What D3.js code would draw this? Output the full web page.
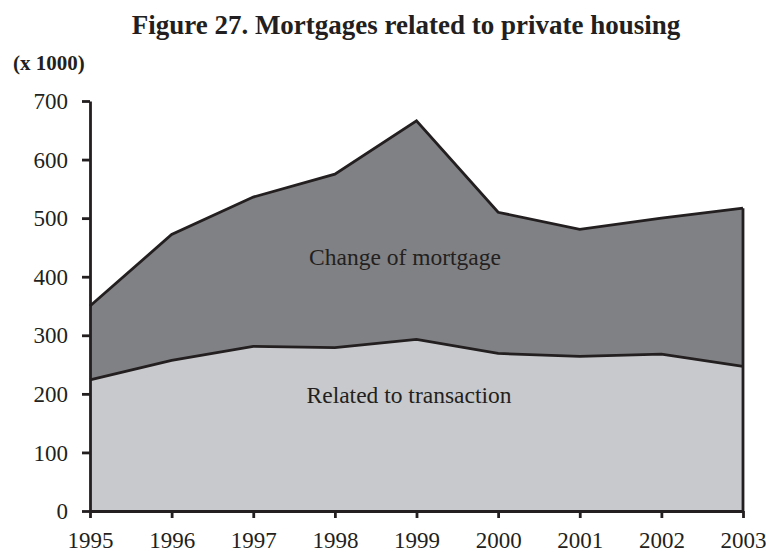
<!DOCTYPE html>
<html>
<head>
<meta charset="utf-8">
<script src="https://cdn.jsdelivr.net/npm/d3@7"></script>
<style>
  body { margin: 0; background: #fff; }
  text { font-family: "Liberation Serif", "Times New Roman", serif; fill: #231f20; }
</style>
</head>
<body>
<div id="chart"></div>
<script>
// data (x 1000)
const years = [1995, 1996, 1997, 1998, 1999, 2000, 2001, 2002, 2003];
const transaction = [224, 257, 281, 279, 293, 269, 264, 268, 247];
const change = [126, 215, 255, 296, 373, 241, 217, 232, 270];
const yTicks = [0, 100, 200, 300, 400, 500, 600, 700];

const width = 766, height = 554;
const margin = { top: 101, right: 23, bottom: 43, left: 90 };

const svg = d3.select('#chart').append('svg')
  .attr('width', width)
  .attr('height', height);

const x = d3.scaleLinear()
  .domain(d3.extent(years))
  .range([margin.left, width - margin.right]);
const y = d3.scaleLinear()
  .domain([0, 700])
  .range([height - margin.bottom, margin.top]);

const rows = years.map((yr, i) => ({ year: yr, transaction: transaction[i], change: change[i] }));
const stack = d3.stack().keys(['transaction', 'change'])(rows);
const fills = { transaction: '#c8c9cc', change: '#808184' };

const area = d3.area()
  .x(d => x(d.data.year))
  .y0(d => y(d[0]))
  .y1(d => y(d[1]));

svg.selectAll('.layer')
  .data(stack)
  .enter().append('path')
  .attr('class', 'layer')
  .attr('fill', d => fills[d.key])
  .attr('d', area);

// outlines on top of each layer + right edge
const line = d3.line()
  .x(d => x(d.data.year))
  .y(d => y(d[1]));
stack.forEach(s => {
  svg.append('path')
    .attr('fill', 'none')
    .attr('stroke', '#231f20')
    .attr('stroke-width', 2.8)
    .attr('stroke-linejoin', 'miter')
    .attr('d', line(s));
});
const last = stack[1][stack[1].length - 1];
svg.append('line')
  .attr('x1', x(last.data.year)).attr('x2', x(last.data.year))
  .attr('y1', y(0)).attr('y2', y(last[1]))
  .attr('stroke', '#231f20').attr('stroke-width', 2.8);

// axes
const yAxis = svg.append('g')
  .attr('transform', 'translate(' + margin.left + ',0)')
  .call(d3.axisLeft(y).tickValues(yTicks).tickSize(8).tickSizeOuter(0).tickPadding(14));
const xAxis = svg.append('g')
  .attr('transform', 'translate(0,' + y(0) + ')')
  .call(d3.axisBottom(x).tickValues(years).tickFormat(d3.format('d')).tickSize(7).tickSizeOuter(0).tickPadding(0));

[yAxis, xAxis].forEach(g => {
  g.selectAll('path, line').attr('stroke', '#231f20').attr('stroke-width', 2.8);
  g.selectAll('text').style('font-size', '23px').attr('fill', '#231f20');
});
yAxis.selectAll('text').attr('dy', '0.33em');
xAxis.selectAll('text').attr('dy', null).attr('y', height - 6 - y(0));

// titles and labels
svg.append('text')
  .attr('x', 406).attr('y', 34)
  .attr('text-anchor', 'middle')
  .style('font-size', '27px').style('font-weight', 'bold')
  .text('Figure 27. Mortgages related to private housing');
svg.append('text')
  .attr('x', 13).attr('y', 70)
  .style('font-size', '21px').style('font-weight', 'bold')
  .text('(x 1000)');

svg.append('text')
  .attr('x', 405).attr('y', 265)
  .attr('text-anchor', 'middle')
  .style('font-size', '23.5px')
  .text('Change of mortgage');
svg.append('text')
  .attr('x', 409).attr('y', 403)
  .attr('text-anchor', 'middle')
  .style('font-size', '23.5px')
  .text('Related to transaction');
</script>
</body>
</html>
